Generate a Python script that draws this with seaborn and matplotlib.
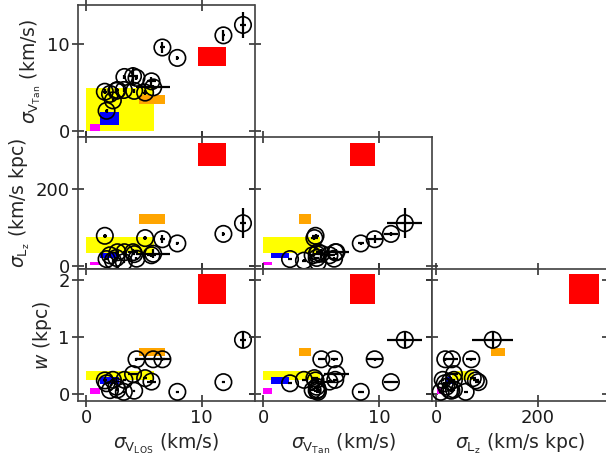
import matplotlib
matplotlib.use("Agg")
import matplotlib.pyplot as plt
from matplotlib.patches import Rectangle
import pandas as pd
import seaborn as sns

sns.set_theme(style="ticks")
plt.rcParams.update({
    "font.family": ["DejaVu Sans"],
    "mathtext.fontset": "dejavusans",
    "axes.edgecolor": "0.25",
    "axes.linewidth": 1.2,
    "text.color": "0.1",
    "xtick.labelcolor": "0.1",
    "ytick.labelcolor": "0.1",
})

# measured systems (values + 1 sigma errors)
v_los = [13.6, 11.9, 6.6, 7.9, 1.6, 5.1, 5.8, 4.05, 5.65, 4.35, 3.3, 4.15, 3.25, 2.05, 2.7, 2.3, 1.75, 2.6]
v_los_err = [0.3, 0.15, 0.2, 0.15, 0.15, 0.2, 1.5, 0.4, 0.4, 0.1, 0.1, 0.1, 0.1, 0.1, 0.1, 0.1, 0.1, 0.1]
v_tan = [12.2, 11.0, 9.6, 8.4, 4.5, 4.4, 5.0, 6.3, 5.7, 6.1, 6.2, 4.6, 4.7, 4.25, 4.7, 3.5, 2.3, 4.6]
v_tan_err = [1.5, 0.6, 0.65, 0.25, 0.3, 0.3, 0.3, 1.1, 0.5, 0.3, 0.2, 0.2, 0.2, 0.2, 0.2, 0.2, 0.2, 0.2]
lz = [111, 83, 69, 58, 78, 72, 31, 35, 27, 18, 35, 30, 9, 27, 35, 13, 17, 20]
lz_err = [40, 6, 10, 4, 6, 6, 12, 8, 4, 4, 3, 3, 3, 3, 3, 3, 3, 3]
width = [0.95, 0.21, 0.61, 0.04, 0.24, 0.28, 0.61, 0.35, 0.22, 0.61, 0.25, 0.06, 0.04, 0.07, 0.08, 0.25, 0.19, 0.13]
width_err = [0.15, 0.02, 0.03, 0.02, 0.02, 0.02, 0.02, 0.02, 0.02, 0.03, 0.02, 0.02, 0.02, 0.02, 0.02, 0.02, 0.02, 0.02]

# model boxes: (low, high) for every quantity
box_colors = ["#ffff00", "#0000ff", "#ff00ff", "#ffa500", "#ff0000"]
box_vlos = [(0, 5.9), (1.2, 2.8), (0.3, 1.15), (4.6, 6.8), (9.7, 12.1)]
box_vtan = [(0, 4.9), (0.7, 2.2), (0, 0.75), (3.1, 4.15), (7.5, 9.6)]
box_lz = [(32, 74), (20, 32), (1, 9), (108, 136), (260, 320)]
box_w = [(0.25, 0.40), (0.18, 0.30), (0, 0.1), (0.67, 0.81), (1.58, 2.1)]

df = pd.DataFrame({"vlos": v_los, "vlos_err": v_los_err,
                   "vtan": v_tan, "vtan_err": v_tan_err,
                   "lz": lz, "lz_err": lz_err,
                   "w": width, "w_err": width_err})
boxes = {"vlos": box_vlos, "vtan": box_vtan, "lz": box_lz, "w": box_w}

labels = {
    "vlos": r"$\sigma_{\mathrm{V}_{\mathrm{LOS}}}$ (km/s)",
    "vtan": r"$\sigma_{\mathrm{V}_{\mathrm{Tan}}}$ (km/s)",
    "lz": r"$\sigma_{\mathrm{L}_{\mathrm{z}}}$ (km/s kpc)",
    "w": r"$w$ (kpc)",
}
limits = {"vlos": (-0.73, 14.6), "vtan": (-0.72, 14.5), "lz": (-9, 337), "w": (-0.12, 2.19)}
ticks = {"vlos": [0, 10], "vtan": [0, 10], "lz": [0, 200], "w": [0, 1, 2]}

cols = ["vlos", "vtan", "lz"]
rows = ["vtan", "lz", "w"]

fig = plt.figure(figsize=(6.06, 4.57), dpi=100)
W, H = 606, 457
lefts = [78, 255, 431.5]
tops = [5, 137, 269]
pw, ph = 176.5, 132

for r, yk in enumerate(rows):
    for c, xk in enumerate(cols):
        if c > r:
            continue
        ax = fig.add_axes([lefts[c] / W, 1 - (tops[r] + ph) / H, pw / W, ph / H])

        # model regions
        for col, (x0, x1), (y0, y1) in zip(box_colors, boxes[xk], boxes[yk]):
            ax.add_patch(Rectangle((x0, y0), x1 - x0, y1 - y0, facecolor=col,
                                   edgecolor="none", zorder=1))

        ax.errorbar(df[xk], df[yk], xerr=df[xk + "_err"], yerr=df[yk + "_err"],
                    fmt="none", ecolor="black", elinewidth=1.6, capsize=0, zorder=3)
        sns.scatterplot(data=df, x=xk, y=yk, ax=ax, marker="o", s=140,
                        facecolor="none", edgecolor="black", linewidth=1.2,
                        zorder=4, legend=False)

        ax.set_xlim(limits[xk])
        ax.set_ylim(limits[yk])
        ax.set_xticks(ticks[xk])
        ax.set_yticks(ticks[yk])
        ax.tick_params(direction="inout", length=8, width=1.2, color="0.2",
                       top=True, right=True, labelsize=13, pad=2,
                       labelleft=(c == 0), labelbottom=(r == 2))
        ax.set_xlabel(labels[xk] if r == 2 else "", fontsize=13.5, labelpad=3)
        ax.set_ylabel(labels[yk] if c == 0 else "", fontsize=13.5, labelpad=3)

fig.savefig("out.png", dpi=100)
plt.close(fig)
